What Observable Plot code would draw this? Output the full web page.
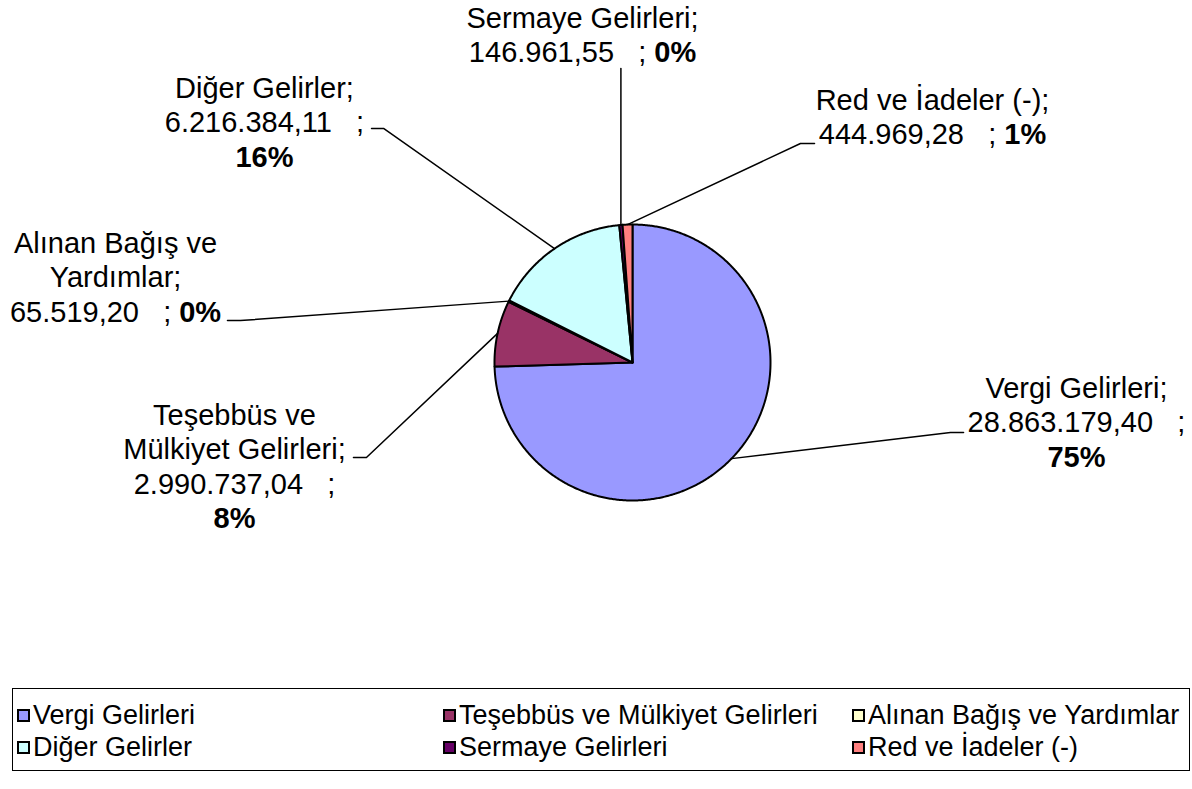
<!DOCTYPE html>
<html>
<head>
<meta charset="utf-8">
<script src="https://cdn.jsdelivr.net/npm/d3@7"></script>
<script src="https://cdn.jsdelivr.net/npm/@observablehq/plot@0.6"></script>
<style>
  html, body { margin: 0; padding: 0; background: #fff; overflow: hidden; }
  #wrap { position: relative; width: 1192px; height: 789px; font-family: "Liberation Sans", Arial, sans-serif; }
  #legend { position: absolute; left: 12px; top: 688px; width: 1176px; height: 81px; border: 1px solid #000; box-sizing: content-box; }
  .item { position: absolute; display: flex; align-items: center; height: 32px; font-size: 27px; color: #000; white-space: nowrap; }
  .sw { width: 13px; height: 13px; border: 2px solid #000; box-sizing: border-box; margin-right: 3px; }
</style>
</head>
<body>
<div id="wrap"><div id="chart"></div><div id="legend"></div></div>
<script>
// ---- data ----
const names = ["Vergi Gelirleri", "Teşebbüs ve Mülkiyet Gelirleri", "Alınan Bağış ve Yardımlar", "Diğer Gelirler", "Sermaye Gelirleri", "Red ve İadeler (-)"];
const values = [28863179.40, 2990737.04, 65519.20, 6216384.11, 146961.55, 444969.28];
const colors = ["#9999FF", "#993366", "#FFFFCC", "#CCFFFF", "#660066", "#FF8080"];

// ---- label layout (units of pie radius, y up, origin at pie centre) ----
const labelX   = [3.217, -2.884, -3.746, -2.667, -0.362, 2.174];
const labelTop = [-0.188, -0.384, 0.862, 1.986, 2.493, 1.899];
const elbowX   = [2.304, -1.928, -2.841, -1.804, null, 1.217];
const elbowY   = [-0.507, -0.688, 0.304, 1.696, 2.130, 1.587];
const stubLen  = [0.095, -0.094, -0.094, -0.087, 0, 0.102];
const wrapTpl  = ["{N};|{V}|{P}", "{A}|{B};|{V}|{P}", "{A}|{B};|{V}\u00a0{P}", "{N};|{V}|{P}", "{N};|{V}\u00a0{P}", "{N};|{V}\u00a0{P}"];
const nameBreak = [0, 2, 3, 0, 0, 0];
const lineStep = 0.25;

// ---- legend layout (pixels inside legend box) ----
const legendColX = [4, 430, 839];
const legendRowY = [10, 42];

// ---- layout constants (pixels) ----
const W = 1192, H = 686, cx = 632, cy = 362, R = 138;

const fmt = d3.formatLocale({decimal: ",", thousands: ".", grouping: [3], currency: ["", ""]}).format(",.2f");
const total = d3.sum(values);
const pct = values.map(v => Math.round(v / total * 100) + "%");

const slices = [], leaders = [], texts = [];
let cum = 0;
values.forEach((v, i) => {
  const a0 = cum / total * 2 * Math.PI, a1 = (cum + v) / total * 2 * Math.PI;
  cum += v;
  const n = Math.max(2, Math.ceil((a1 - a0) / (Math.PI / 360)));
  slices.push({name: names[i], x: 0, y: 0});
  for (let k = 0; k <= n; k++) {
    const t = a0 + (a1 - a0) * k / n;
    slices.push({name: names[i], x: Math.sin(t), y: Math.cos(t)});
  }
  slices.push({name: names[i], x: 0, y: 0});
  const am = (a0 + a1) / 2;
  const px = Math.sin(am), py = Math.cos(am);
  const ex = elbowX[i] == null ? px : elbowX[i];
  leaders.push({name: names[i], x: px, y: py});
  leaders.push({name: names[i], x: ex, y: elbowY[i]});
  if (stubLen[i]) leaders.push({name: names[i], x: ex + stubLen[i], y: elbowY[i]});
  const words = names[i].split(" ");
  const map = {
    N: names[i],
    A: words.slice(0, nameBreak[i]).join(" "),
    B: words.slice(nameBreak[i]).join(" "),
    V: fmt(values[i]) + "\u00a0\u00a0\u00a0;",
    P: "§" + pct[i] + "§"
  };
  wrapTpl[i].split("|").forEach((tpl, j) => {
    texts.push({x: labelX[i], y: labelTop[i] - j * lineStep, text: tpl.replace(/\{(\w)\}/g, (_, k) => map[k])});
  });
});

const chart = Plot.plot({
  width: W, height: H, margin: 0,
  x: {domain: [-cx / R, (W - cx) / R], axis: null},
  y: {domain: [-(H - cy) / R, cy / R], axis: null},
  color: {domain: names, range: colors},
  style: {fontFamily: "'Liberation Sans', Arial, sans-serif", background: "#fff", overflow: "visible"},
  marks: [
    Plot.line(slices, {x: "x", y: "y", z: "name", fill: "name", stroke: "#000", strokeWidth: 2, curve: "linear"}),
    Plot.line(leaders, {x: "x", y: "y", z: "name", stroke: "#000", strokeWidth: 1.5, curve: "linear"}),
    Plot.text(texts, {x: "x", y: "y", text: "text", fontSize: 29, fill: "#000"})
  ]
});

chart.querySelectorAll('g[aria-label="text"] text').forEach(t => {
  const s = t.textContent;
  if (!s.includes("§")) return;
  t.textContent = "";
  s.split("§").forEach((part, k) => {
    if (!part) return;
    const ts = document.createElementNS("http://www.w3.org/2000/svg", "tspan");
    ts.textContent = part;
    if (k % 2) ts.setAttribute("font-weight", "bold");
    t.appendChild(ts);
  });
});
document.getElementById("chart").appendChild(chart);

const legend = document.getElementById("legend");
names.forEach((nm, i) => {
  const col = i % 3, row = Math.floor(i / 3);
  const it = document.createElement("div");
  it.className = "item";
  it.style.left = legendColX[col] + "px";
  it.style.top = legendRowY[row] + "px";
  const sw = document.createElement("div");
  sw.className = "sw";
  sw.style.background = colors[i];
  it.appendChild(sw);
  it.appendChild(document.createTextNode(nm));
  legend.appendChild(it);
});
</script>
</body>
</html>
